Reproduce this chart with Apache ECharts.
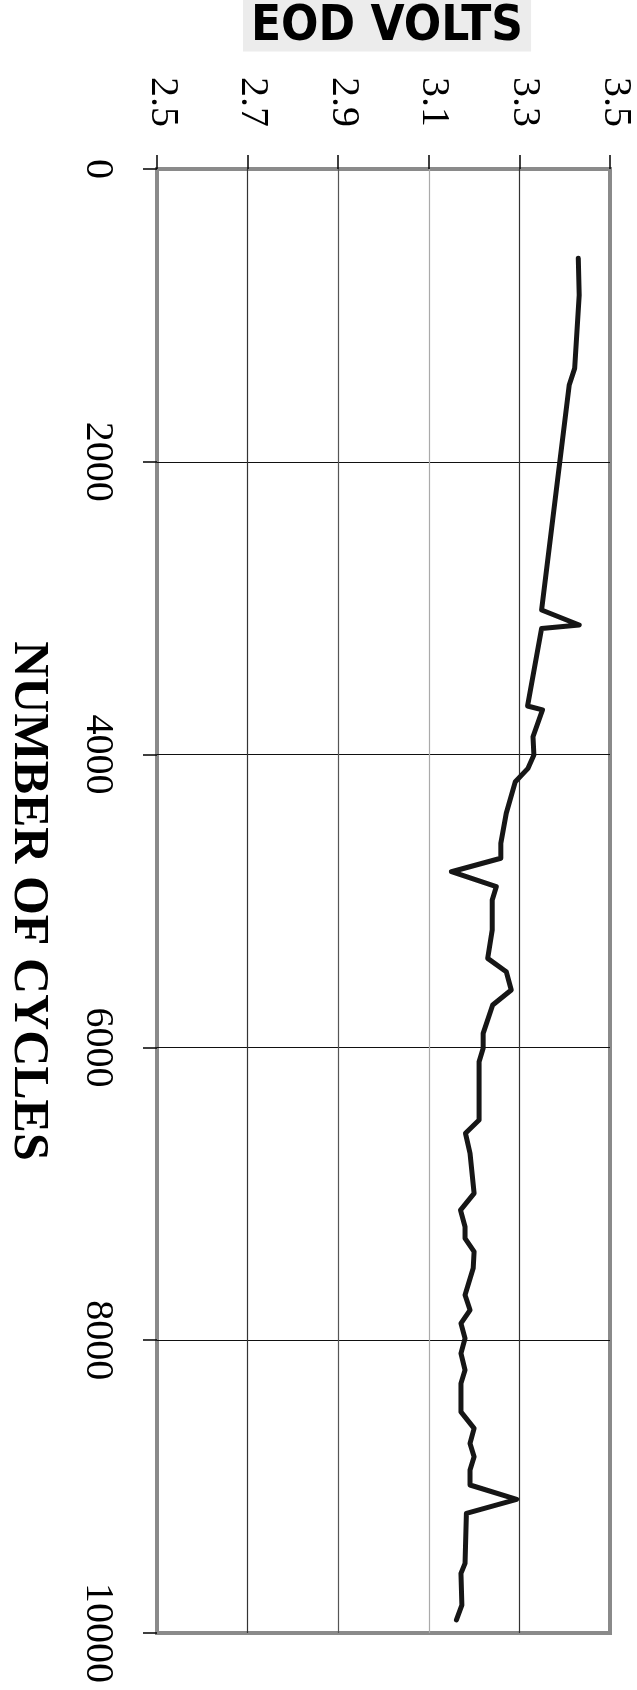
<!DOCTYPE html>
<html>
<head>
<meta charset="utf-8">
<script src="https://cdn.jsdelivr.net/npm/echarts@6/dist/echarts.min.js"></script>
<style>
  html, body { margin: 0; padding: 0; background: #ffffff; }
  #chart { width: 637px; height: 1690px; }
</style>
</head>
<body>
<div id="chart"></div>
<script>
// Data (cycles run down the page, volts across)
const cycles = [610, 861, 1362, 1475, 3012, 3115, 3138, 3668, 3695, 3878, 4003, 4094, 4185, 4401, 4606, 4708, 4800, 4902, 4993, 5198, 5392, 5483, 5608, 5710, 5904, 6006, 6098, 6496, 6587, 6723, 6997, 7111, 7225, 7304, 7395, 7509, 7691, 7794, 7885, 7987, 8090, 8204, 8295, 8490, 8602, 8705, 8796, 8887, 8989, 9087, 9183, 9524, 9593, 9809, 9911];
const volts = [3.430, 3.432, 3.422, 3.410, 3.349, 3.432, 3.349, 3.318, 3.351, 3.330, 3.332, 3.319, 3.291, 3.271, 3.259, 3.259, 3.150, 3.249, 3.240, 3.240, 3.230, 3.271, 3.282, 3.241, 3.220, 3.220, 3.211, 3.211, 3.181, 3.191, 3.200, 3.170, 3.180, 3.180, 3.200, 3.198, 3.180, 3.191, 3.171, 3.180, 3.171, 3.180, 3.171, 3.171, 3.200, 3.191, 3.200, 3.191, 3.191, 3.294, 3.183, 3.180, 3.171, 3.173, 3.161];
const voltTicks = ['2.5', '2.7', '2.9', '3.1', '3.3', '3.5'];
const cycleTicks = ['0', '2000', '4000', '6000', '8000', '10000'];
const voltTitle = 'EOD VOLTS';
const cycleTitle = 'NUMBER OF CYCLES';

const seriesData = cycles.map((c, i) => [volts[i], c]);
const serif = '"Liberation Serif", "Times New Roman", serif';

const chart = echarts.init(document.getElementById('chart'), null, { renderer: 'canvas' });
chart.setOption({
  animation: false,
  backgroundColor: '#ffffff',
  grid: {
    left: 157, top: 169, right: 27, bottom: 57,
    show: true,
    borderColor: '#8a8a8a',
    borderWidth: 4,
    outerBoundsMode: 'none',
    containLabel: false
  },
  title: {
    text: voltTitle,
    left: 243,
    top: 0,
    padding: [4, 8, 0, 8],
    backgroundColor: '#ececec',
    textStyle: {
      fontFamily: '"DejaVu Sans Condensed", "DejaVu Sans", sans-serif',
      fontWeight: 'bold',
      fontSize: 49,
      lineHeight: 46,
      color: '#000000'
    }
  },
  xAxis: {
    type: 'value',
    position: 'top',
    min: 2.5,
    max: 3.5,
    interval: 0.2,
    axisLine: { show: false },
    axisTick: { show: true, inside: false, length: 14, lineStyle: { color: '#000', width: 1.5 } },
    axisLabel: {
      rotate: -90,
      margin: 42,
      fontFamily: serif,
      fontSize: 40,
      color: '#000',
      formatter: (v) => {
        const idx = Math.round((v - 2.5) / 0.2);
        const t = voltTicks[idx] !== undefined ? voltTicks[idx] : v.toFixed(1);
        return '{v|' + t + '}';
      },
      rich: {
        v: { fontFamily: serif, fontSize: 40, color: '#000', padding: [0, 0, 10, 0] }
      }
    },
    splitLine: {
      show: true,
      showMinLine: false,
      showMaxLine: false,
      lineStyle: { color: ['#333', '#555', '#aaaaaa', '#333', '#333', '#333'], width: 1.2 }
    }
  },
  yAxis: {
    type: 'value',
    position: 'left',
    inverse: true,
    min: 0,
    max: 10000,
    interval: 2000,
    name: cycleTitle,
    nameLocation: 'middle',
    nameRotate: -90,
    nameGap: 104,
    nameTextStyle: {
      fontFamily: serif,
      fontSize: 50,
      fontWeight: 'bold',
      color: '#000'
    },
    axisLine: { show: false },
    axisTick: { show: true, inside: false, length: 14, lineStyle: { color: '#000', width: 1.5 } },
    axisLabel: {
      rotate: -90,
      margin: 40,
      fontFamily: serif,
      fontSize: 40,
      color: '#000',
      formatter: (v) => {
        const idx = Math.round(v / 2000);
        return cycleTicks[idx] !== undefined ? cycleTicks[idx] : String(v);
      }
    },
    splitLine: {
      show: true,
      showMinLine: false,
      showMaxLine: false,
      lineStyle: { color: '#111', width: 1.2 }
    }
  },
  series: [{
    type: 'line',
    data: seriesData,
    symbol: 'none',
    smooth: false,
    lineStyle: { color: '#161616', width: 5, join: 'round', cap: 'round' },
    z: 3
  }]
});
</script>
</body>
</html>
